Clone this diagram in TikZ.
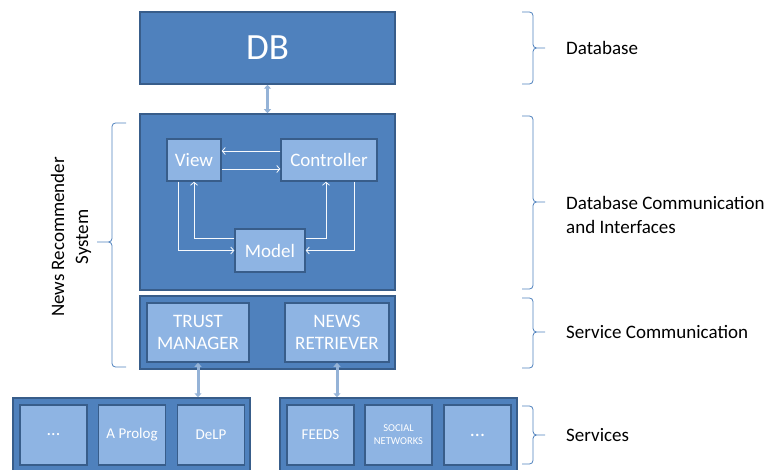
\documentclass[tikz,border=0pt]{standalone}
\usepackage{fontspec}
\setmainfont{Carlito}
\usetikzlibrary{arrows.meta}
\definecolor{layerblue}{HTML}{4F81BD}
\definecolor{edgeblue}{HTML}{385D8A}
\definecolor{boxblue}{HTML}{8EB4E3}
\definecolor{linkblue}{HTML}{95B3D7}

\begin{document}
\begin{tikzpicture}[x=1pt, y=-1pt,
  layer/.style={draw=edgeblue, line width=1.5pt, fill=layerblue, text=white, inner sep=0pt},
  part/.style={draw=edgeblue, line width=1.5pt, fill=boxblue, text=white, inner sep=0pt, align=center, font=\fontsize{19}{22}\selectfont},
  svcbox/.style={part, minimum width=67pt, minimum height=60pt, font=\fontsize{15}{18}\selectfont},
  flow/.style={draw=white!92!boxblue, line width=0.8pt, -{Straight Barb[length=3pt,width=7pt]}},
  link/.style={draw=linkblue, line width=3pt, {Triangle[length=4pt,width=7pt]}-{Triangle[length=4pt,width=7pt]}},
  bracket/.style={draw=layerblue, line width=0.8pt, rounded corners=3.5pt},
  note/.style={font=\fontsize{19}{24}\selectfont, align=left, anchor=west, inner sep=0pt},
]
  \useasboundingbox (0,0) rectangle (767,470);
  \clip (0,0) rectangle (767,470);

  % Layers
  \node[layer, minimum width=255pt, minimum height=72pt, font=\fontsize{37}{40}\selectfont] (db) at (267.5,48) {DB};
  \node[layer, minimum width=255pt, minimum height=176pt] (mvc) at (267.5,202) {};
  \node[layer, minimum width=255pt, minimum height=73pt] (svc) at (267.5,332.5) {};
  \node[layer, minimum width=237pt, minimum height=84pt] (lsvc) at (131.5,440) {};
  \node[layer, minimum width=237pt, minimum height=84pt] (rsvc) at (398.5,440) {};

  % MVC
  \node[part, minimum width=54pt, minimum height=42pt] (view) at (194,160) {View};
  \node[part, minimum width=96pt, minimum height=42pt] (ctrl) at (329,160) {Controller};
  \node[part, minimum width=70pt, minimum height=43pt] (model) at (270,250.5) {Model};

  \draw[flow] ([yshift=9pt]ctrl.west) -- ([yshift=9pt]view.east);
  \draw[flow] ([yshift=-9pt]view.east) -- ([yshift=-9pt]ctrl.west);
  \draw[flow] ([xshift=-16pt]view.south) |- (model.west);
  \draw[flow] ([yshift=12pt]model.west) -| (view.south);
  \draw[flow] ([yshift=12pt]model.east) -| ([xshift=-3pt]ctrl.south);
  \draw[flow] ([xshift=25pt]ctrl.south) |- (model.east);

  % Service communication
  \node[part, minimum width=102pt, minimum height=59pt] (trust) at (198,332.5) {TRUST\\MANAGER};
  \node[part, minimum width=104pt, minimum height=59pt] (news) at (337,332.5) {NEWS\\RETRIEVER};

  % Services
  \node[svcbox, font=\fontsize{18}{18}\selectfont] (more1) at (53.5,435) {...};
  \node[svcbox] (aprolog) at (132,435) {A Prolog};
  \node[svcbox] (delp) at (211,435) {DeLP};
  \node[svcbox] (feeds) at (320.5,435) {FEEDS};
  \node[svcbox, font=\fontsize{10.5}{13}\selectfont] (social) at (398.5,435) {SOCIAL\\NETWORKS};
  \node[svcbox, font=\fontsize{20}{20}\selectfont] (more2) at (477.5,435) {...};

  % Links between layers
  \draw[link] (db.south) -- (mvc.north);
  \draw[link] (trust.south) -- (trust.south |- lsvc.north);
  \draw[link] (news.south) -- (news.south |- rsvc.north);

  % Braces
  \draw[bracket] (522,12) -| (533,48) -- (545,48) (522,84) -| (533,48) -- (545,48);
  \draw[bracket] (522,116) -| (533,202) -- (545,202) (522,289) -| (533,202) -- (545,202);
  \draw[bracket] (522,298) -| (533,332) -- (545,332) (522,368) -| (533,332) -- (545,332);
  \draw[bracket] (522,406) -| (533,435) -- (545,435) (522,464) -| (533,435) -- (545,435);
  \draw[bracket] (126,123) -| (112,242) -- (97,242) (126,367) -| (112,242) -- (97,242);

  % Labels
  \node[note] (dbnote) at (566,48) {Database};
  \node[note] (mvcnote) at (566,215) {Database Communication\\and Interfaces};
  \node[note] (svcnote) at (566,332) {Service Communication};
  \node[note] (srvnote) at (566,435) {Services};
  \node[font=\fontsize{19}{24}\selectfont, align=center, rotate=90] (sysnote) at (71,237) {News Recommender\\System};
\end{tikzpicture}
\end{document}
